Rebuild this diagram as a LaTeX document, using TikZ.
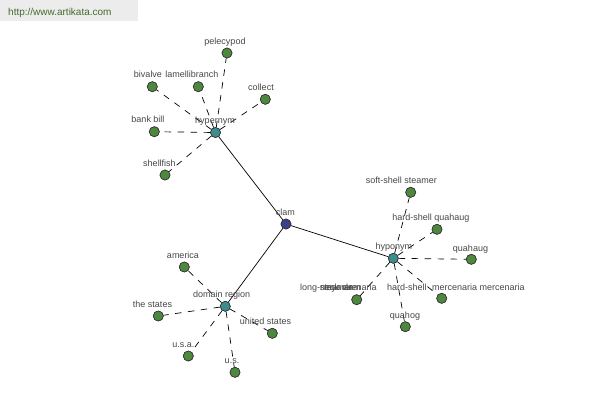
\documentclass[tikz,border=0pt]{standalone}
\usepackage{fontspec}
\setmainfont{Liberation Sans}
\begin{document}
\begin{tikzpicture}[x=1pt,y=-1pt,
  dot/.style={circle,draw=black!80,line width=0.6pt,minimum size=10pt,inner sep=0pt},
  leaf/.style={dot,fill=leafgreen},
  hub/.style={dot,fill=hubteal},
  rootnode/.style={dot,fill=rootblue},
  lbl/.style={font=\fontsize{9}{10}\selectfont,text=labelgray,inner sep=0pt,anchor=base},
  lblw/.style={lbl,anchor=base west},
  rel/.style={draw=black,line width=0.7pt,dash pattern=on 6.5pt off 6.5pt},
  link/.style={draw=black,line width=0.7pt},
  header/.style={fill=headergray,draw=none,inner sep=0pt,minimum width=138pt,minimum height=21pt,anchor=north west},
  headertext/.style={font=\fontsize{10}{12}\selectfont,text=headergreen,inner sep=0pt,anchor=base west}
]
\definecolor{leafgreen}{RGB}{78,136,62}
\definecolor{hubteal}{RGB}{62,140,140}
\definecolor{rootblue}{RGB}{58,64,138}
\definecolor{labelgray}{RGB}{70,70,70}
\definecolor{headergray}{RGB}{236,236,236}
\definecolor{headergreen}{RGB}{70,105,45}
\useasboundingbox (0,0) rectangle (600,400);

% header
\node[header] (hdr) at (0,0) {};
\node[headertext] (hdrtext) at (8,15.5) {http://www.artikata.com};

% nodes
\node[rootnode] (clam) at (286,224) {};
\node[hub] (hyper) at (215.5,132.5) {};
\node[hub] (hypo) at (393.3,258.3) {};
\node[hub] (dom) at (225.3,306.3) {};

\node[leaf] (pel) at (227,53) {};
\node[leaf] (biv) at (152.3,86.7) {};
\node[leaf] (lam) at (198.3,86.7) {};
\node[leaf] (col) at (265.3,99.3) {};
\node[leaf] (bank) at (154.3,131.7) {};
\node[leaf] (shell) at (165,175) {};

\node[leaf] (soft) at (410.7,192.3) {};
\node[leaf] (hard) at (437,229.3) {};
\node[leaf] (quahaug) at (471.3,259.3) {};
\node[leaf] (longneck) at (356.7,299.7) {};
\node[leaf] (merc) at (441.7,298.3) {};
\node[leaf] (quahog) at (405.3,326.7) {};

\node[leaf] (amer) at (184.3,267) {};
\node[leaf] (thest) at (158.3,316) {};
\node[leaf] (unst) at (272.3,333.3) {};
\node[leaf] (usa) at (188.3,356) {};
\node[leaf] (us) at (235,372.3) {};

% connectors
\begin{scope}[on background layer/.style={}]
\end{scope}
\path[link] (clam) -- (hyper);
\path[link] (clam) -- (hypo);
\path[link] (clam) -- (dom);

\foreach \t in {pel,biv,lam,col,bank,shell}
  \path[rel] (hyper) -- (\t);
\foreach \t in {soft,hard,quahaug,longneck,merc,quahog}
  \path[rel] (hypo) -- (\t);
\foreach \t in {amer,thest,unst,usa,us}
  \path[rel] (dom) -- (\t);

% redraw nodes on top of connectors
\node[rootnode] at (clam) {};
\node[hub] at (hyper) {};
\node[hub] at (hypo) {};
\node[hub] at (dom) {};
\foreach \t in {pel,biv,lam,col,bank,shell,soft,hard,quahaug,longneck,merc,quahog,amer,thest,unst,usa,us}
  \node[leaf] at (\t) {};

% labels
\node[lbl] (pelL) at (225,44.6) {pelecypod};
\node[lbl] (bivL) at (148,77) {bivalve};
\node[lbl] (lamL) at (192,77) {lamellibranch};
\node[lbl] (colL) at (261,90.6) {collect};
\node[lbl] (bankL) at (148,122.3) {bank bill};
\node[lbl] (hyperL) at (215,123.3) {hypernym};
\node[lbl] (shellL) at (159.5,166.3) {shellfish};
\node[lbl] (clamL) at (285.3,215.3) {clam};

\node[lbl] (softL) at (401.3,183.3) {soft-shell steamer};
\node[lbl] (hardL) at (430.8,220) {hard-shell quahaug};
\node[lbl] (hypoL) at (393.8,249.3) {hyponym};
\node[lbl] (quahaugL) at (470.5,251.3) {quahaug};
\node[lbl] (quahogL) at (405,318) {quahog};
\node[lblw] (longL) at (300,290.6) {long-neck clam};
\node[lblw] (steamL) at (320,290.6) {steamer};
\node[lblw] (myaL) at (324,290.6) {mya arenaria};
\node[lblw] (hsL) at (387,290.6) {hard-shell};
\node[lblw] (mercL) at (432,290.6) {mercenaria mercenaria};

\node[lbl] (amerL) at (183,258.3) {america};
\node[lbl] (thestL) at (152.5,307.3) {the states};
\node[lbl] (domL) at (221.7,297.3) {domain region};
\node[lbl] (unstL) at (265.5,324.3) {united states};
\node[lbl] (usaL) at (183.3,347.6) {u.s.a.};
\node[lbl] (usL) at (232,363.6) {u.s.};
\end{tikzpicture}
\end{document}
